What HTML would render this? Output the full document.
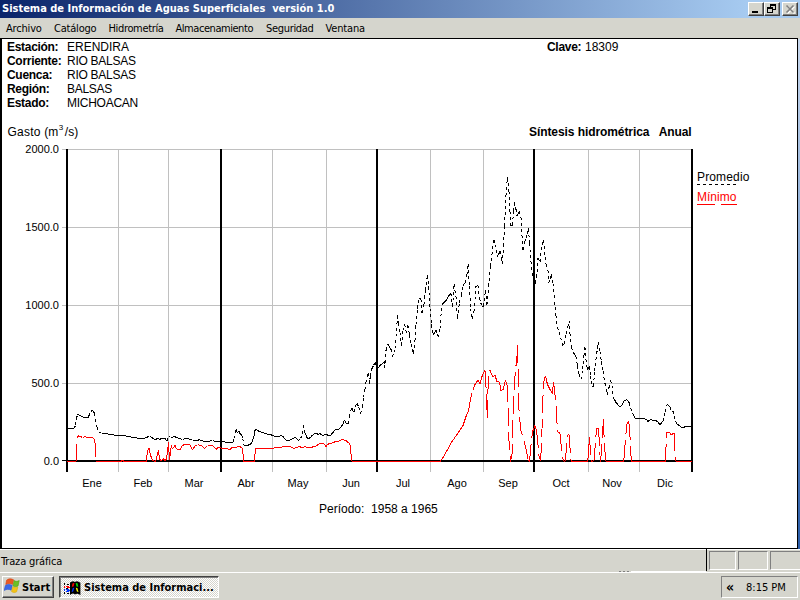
<!DOCTYPE html>
<html lang="es">
<head>
<meta charset="utf-8">
<title>Sistema de Información de Aguas Superficiales versión 1.0</title>
<style>
html,body{margin:0;padding:0;}
body{width:800px;height:600px;overflow:hidden;background:#d5d5cd;position:relative;font-family:"Liberation Sans",sans-serif;}
.abs{position:absolute;white-space:nowrap;}
#title{left:0;top:0;width:800px;height:18px;background:linear-gradient(to right,#0a246a 0,#a6caf0 746px);}
#title .t{left:2px;top:2px;color:#fff;font:bold 11px/14px "DejaVu Sans Condensed","Liberation Sans",sans-serif;}
.cbtn{top:2px;width:16px;height:14px;background:#d5d5cd;box-sizing:border-box;border:1px solid;border-color:#fff #404040 #404040 #fff;box-shadow:inset -1px -1px 0 #808080;}
#menu{left:0;top:18px;width:800px;height:20px;background:#d5d5cd;}
#menu span{position:absolute;top:4px;font:11px/13px "DejaVu Sans Condensed","Liberation Sans",sans-serif;color:#000;}
#client{left:0;top:38px;width:798px;height:511px;background:#000;}
#white{left:2px;top:39px;width:795px;height:509px;background:#fff;}
.lb{font:bold 12px/14px "Liberation Sans",sans-serif;color:#000;letter-spacing:-0.3px;}
.lv{font:12px/14px "Liberation Sans",sans-serif;color:#000;}
.mo{width:40px;text-align:center;top:477px;}
.ax{font:11px/12px "Liberation Sans",sans-serif;color:#000;}
#status{left:0;top:549px;width:800px;height:23px;background:#d5d5cd;box-shadow:inset 0 1px 0 #fff;}
#taskbar{left:0;top:572px;width:800px;height:28px;background:#d5d5cd;border-top:1px solid #fff;box-sizing:border-box;}
.tah{font:11px/13px "DejaVu Sans Condensed","Liberation Sans",sans-serif;color:#000;}
.tahb{font:bold 11px/13px "DejaVu Sans Condensed","Liberation Sans",sans-serif;color:#000;}
.raised{box-sizing:border-box;background:#d5d5cd;border:1px solid;border-color:#fff #404040 #404040 #fff;box-shadow:inset -1px -1px 0 #808080;}
.pressed{box-sizing:border-box;background:#eaeae6;border:1px solid;border-color:#404040 #fff #fff #404040;box-shadow:inset 1px 1px 0 #808080;}
.sunk{box-sizing:border-box;border:1px solid;border-color:#808080 #fff #fff #808080;}
</style>
</head>
<body>
<div id="title" class="abs"><span class="abs t">Sistema de Información de Aguas Superficiales&nbsp; versión 1.0</span>
<div class="abs cbtn" style="left:748px"><svg width="14" height="12" style="position:absolute;left:0;top:0" shape-rendering="crispEdges"><rect x="3" y="8" width="6" height="2" fill="#000"/></svg></div>
<div class="abs cbtn" style="left:764px"><svg width="14" height="12" style="position:absolute;left:0;top:0" shape-rendering="crispEdges"><rect x="5" y="1" width="6" height="2" fill="#000"/><rect x="5" y="3" width="1" height="1" fill="#000"/><rect x="10" y="3" width="1" height="4" fill="#000"/><rect x="8" y="6" width="3" height="1" fill="#000"/><rect x="2" y="4" width="6" height="2" fill="#000"/><rect x="2" y="6" width="1" height="4" fill="#000"/><rect x="7" y="6" width="1" height="4" fill="#000"/><rect x="2" y="9" width="6" height="1" fill="#000"/></svg></div>
<div class="abs cbtn" style="left:782px"><svg width="14" height="12" style="position:absolute;left:0;top:0"><path d="M4.5 3.5L11.5 10.5M11.5 3.5L4.5 10.5" stroke="#fff" stroke-width="1.5"/><path d="M3.5 2.5L10.5 9.5M10.5 2.5L3.5 9.5" stroke="#808080" stroke-width="1.6"/></svg></div>
</div>
<div id="menu" class="abs">
<span style="left:6px;letter-spacing:-0.18px">Archivo</span><span style="left:54px;letter-spacing:-0.2px">Catálogo</span><span style="left:108.5px;letter-spacing:-0.35px">Hidrometría</span><span style="left:175.5px;letter-spacing:-0.45px">Almacenamiento</span><span style="left:266px;letter-spacing:-0.32px">Seguridad</span><span style="left:325.5px;letter-spacing:-0.16px">Ventana</span>
</div>
<div id="client" class="abs"></div>
<div id="white" class="abs"></div>
<div class="abs" style="left:798px;top:39px;width:2px;height:510px;background:linear-gradient(to bottom,#c8d8ee 0%,#7aa0d0 50%,#2a5ca8 100%)"></div>

<span class="abs lb" style="left:7px;top:40px">Estación:</span><span class="abs lv" style="left:67px;top:40px">ERENDIRA</span>
<span class="abs lb" style="left:7px;top:54px">Corriente:</span><span class="abs lv" style="left:67px;top:54px;letter-spacing:-0.27px">RIO BALSAS</span>
<span class="abs lb" style="left:7px;top:68px">Cuenca:</span><span class="abs lv" style="left:67px;top:68px;letter-spacing:-0.27px">RIO BALSAS</span>
<span class="abs lb" style="left:7px;top:82px">Región:</span><span class="abs lv" style="left:67px;top:82px;letter-spacing:-0.27px">BALSAS</span>
<span class="abs lb" style="left:7px;top:96px">Estado:</span><span class="abs lv" style="left:67px;top:96px;letter-spacing:-0.27px">MICHOACAN</span>
<span class="abs lb" style="left:547px;top:40px">Clave:</span><span class="abs lv" style="left:585px;top:40px">18309</span>

<span class="abs lv" style="left:7.5px;top:125px"><span style="letter-spacing:0.25px">Gasto </span>(m<span style="font-size:8px;position:relative;top:-6px;margin:0 1.5px 0 0.5px">3</span>/s)</span>
<span class="abs lb" style="left:529px;top:125px;letter-spacing:-0.08px">Síntesis hidrométrica&nbsp;&nbsp; Anual</span>

<svg class="abs" id="chart" style="left:0;top:0" width="800" height="600" viewBox="0 0 800 600">
<g shape-rendering="crispEdges">
<rect x="68" y="149" width="624" height="1" fill="#c0c0c0"/>
<rect x="68" y="227" width="624" height="1" fill="#c0c0c0"/>
<rect x="68" y="305" width="624" height="1" fill="#c0c0c0"/>
<rect x="68" y="383" width="624" height="1" fill="#c0c0c0"/>
<rect x="118" y="149" width="1" height="323" fill="#c0c0c0"/>
<rect x="168" y="149" width="1" height="323" fill="#c0c0c0"/>
<rect x="272" y="149" width="1" height="323" fill="#c0c0c0"/>
<rect x="326" y="149" width="1" height="323" fill="#c0c0c0"/>
<rect x="430" y="149" width="1" height="323" fill="#c0c0c0"/>
<rect x="483" y="149" width="1" height="323" fill="#c0c0c0"/>
<rect x="588" y="149" width="1" height="323" fill="#c0c0c0"/>
<rect x="639" y="149" width="1" height="323" fill="#c0c0c0"/>
<rect x="66" y="149" width="2" height="323" fill="#000"/>
<rect x="220" y="149" width="2" height="323" fill="#000"/>
<rect x="376" y="149" width="2" height="323" fill="#000"/>
<rect x="533" y="149" width="2" height="323" fill="#000"/>
<rect x="691" y="149" width="2" height="323" fill="#000"/>
<rect x="66" y="460" width="627" height="2" fill="#000"/>
<rect x="62" y="149" width="4" height="1" fill="#c0c0c0"/>
<rect x="62" y="227" width="4" height="1" fill="#c0c0c0"/>
<rect x="62" y="305" width="4" height="1" fill="#c0c0c0"/>
<rect x="62" y="383" width="4" height="1" fill="#c0c0c0"/>
<rect x="62" y="460" width="5" height="1" fill="#000"/>
</g>
<g shape-rendering="crispEdges">
<path d="M67.0 429.0L68.7 428.8M68.7 428.8L70.4 428.6M70.4 428.6L72.1 428.4M72.1 428.4L73.8 428.2M77.5 414.5L79.2 415.2M79.2 415.2L80.8 416.0M80.8 416.0L82.5 416.8M82.5 416.8L84.3 417.2M84.3 417.2L86.2 417.6M86.2 417.6L88.0 418.0M88.0 418.0L89.0 415.5M90.6 411.5L92.5 410.5M98.8 432.4L100.2 432.7M100.2 432.7L101.6 433.1M101.6 433.1L103.0 433.4M103.0 433.4L104.8 433.6M104.8 433.6L106.5 433.8M106.5 433.8L108.2 434.0M108.2 434.0L110.0 434.2M110.0 434.2L111.7 434.6M111.7 434.6L113.3 434.9M113.3 434.9L115.0 435.2M115.0 435.2L116.9 435.5M116.9 435.5L118.8 435.8M118.8 435.8L120.6 435.4M120.6 435.4L122.5 435.0M122.5 435.0L124.2 435.5M124.2 435.5L125.8 436.0M125.8 436.0L127.5 436.5M127.5 436.5L129.0 436.8M129.0 436.8L130.5 437.0M130.5 437.0L132.0 437.2M132.0 437.2L133.5 437.5M133.5 437.5L135.0 437.8M135.0 437.8L136.5 437.9M136.5 437.9L138.0 438.1M138.0 438.1L139.5 438.2M139.5 438.2L141.0 438.4M141.0 438.4L142.5 438.5M142.5 438.5L144.4 438.1M144.4 438.1L146.2 437.8M146.2 437.8L147.8 436.8M147.8 436.8L149.4 435.8M149.4 435.8L150.7 436.6M150.7 436.6L151.9 437.4M151.9 437.4L153.4 438.6M153.4 438.6L155.0 439.9M155.0 439.9L156.2 439.2M156.2 439.2L157.5 438.5M157.5 438.5L158.8 438.9M158.8 438.9L160.0 439.2M160.0 439.2L161.2 438.6M161.2 438.6L162.5 438.0M162.5 438.0L163.8 438.2M163.8 438.2L165.0 438.5M165.0 438.5L166.9 440.8M168.8 435.8L170.6 437.4M170.6 437.4L172.1 437.2M172.1 437.2L173.5 437.0M173.5 437.0L175.0 436.8M175.0 436.8L176.9 437.6M176.9 437.6L178.8 438.5M178.8 438.5L180.6 438.9M180.6 438.9L182.5 439.2M182.5 439.2L184.2 439.0M184.2 439.0L185.8 438.8M185.8 438.8L187.5 438.5M187.5 438.5L189.2 439.1M189.2 439.1L190.8 439.7M190.8 439.7L192.5 440.2M192.5 440.2L194.0 440.2M194.0 440.2L195.5 440.1M195.5 440.1L197.0 440.0M197.0 440.0L198.5 440.0M198.5 440.0L200.0 439.9M200.0 439.9L201.7 440.4M201.7 440.4L203.3 441.0M203.3 441.0L205.0 441.5M205.0 441.5L206.5 441.4M206.5 441.4L208.0 441.2M208.0 441.2L209.5 441.1M209.5 441.1L211.0 440.9M211.0 440.9L212.5 440.8M212.5 440.8L214.2 441.1M214.2 441.1L215.8 441.4M215.8 441.4L217.5 441.8M217.5 441.8L219.0 441.8M219.0 441.8L220.5 441.9M220.5 441.9L222.0 441.9M222.0 441.9L223.5 441.9M223.5 441.9L225.0 442.0M225.0 442.0L226.7 442.3M226.7 442.3L228.3 442.7M228.3 442.7L230.0 443.0M230.0 443.0L231.5 442.5M231.5 442.5L233.0 442.0M237.5 433.0L238.8 431.1M238.8 431.1L240.0 433.5M240.0 433.5L241.9 435.5M243.8 444.9L245.6 446.1M245.6 446.1L247.1 445.6M247.1 445.6L248.5 445.0M248.5 445.0L250.0 444.5M250.0 444.5L251.1 443.4M251.1 443.4L252.2 442.4M255.2 429.0L257.0 430.1M257.0 430.1L258.8 431.1M258.8 431.1L260.6 431.8M260.6 431.8L262.5 432.4M262.5 432.4L263.8 432.9M263.8 432.9L265.0 433.5M265.0 433.5L266.6 433.9M266.6 433.9L268.1 434.2M268.1 434.2L269.7 434.5M269.7 434.5L271.2 434.9M271.2 434.9L273.1 435.7M273.1 435.7L275.0 436.5M275.0 436.5L276.9 436.3M276.9 436.3L278.8 436.1M278.8 436.1L280.6 435.9M280.6 435.9L282.5 435.8M284.4 438.5L285.6 439.6M285.6 439.6L286.9 440.8M286.9 440.8L288.4 440.5M288.4 440.5L290.0 440.2M290.0 440.2L291.9 439.2M291.9 439.2L293.8 438.2M293.8 438.2L295.6 437.4M295.6 437.4L297.1 439.1M297.1 439.1L298.5 440.8M304.0 430.5L305.0 433.0M305.0 433.0L306.2 435.2M307.5 439.0L308.8 438.4M308.8 438.4L310.0 437.8M310.0 437.8L311.2 436.5M311.2 436.5L312.5 435.2M312.5 435.2L314.1 434.0M314.1 434.0L315.6 432.8M315.6 432.8L316.8 433.6M316.8 433.6L318.0 434.5M318.0 434.5L320.0 433.5M320.0 433.5L321.2 434.5M321.2 434.5L322.5 435.5M322.5 435.5L324.4 435.0M324.4 435.0L326.2 434.5M326.2 434.5L328.1 435.3M328.1 435.3L330.0 436.1M330.0 436.1L331.2 434.6M331.2 434.6L332.5 433.0M332.5 433.0L334.1 431.0M334.1 431.0L335.6 429.0M335.6 429.0L336.8 429.4M336.8 429.4L338.0 429.9M338.0 429.9L339.3 428.6M339.3 428.6L340.6 427.4M340.6 427.4L341.8 425.8M341.8 425.8L343.0 424.2M346.2 423.5L347.5 423.5M347.5 423.5L348.8 423.5M355.6 405.5L357.2 403.5M380.0 365.5L381.7 364.2M381.7 364.2L383.3 362.8M383.3 362.8L385.0 361.5M388.0 344.5L389.5 347.0M389.5 347.0L391.0 349.5M418.6 297.5L419.8 298.5M419.8 298.5L421.0 299.5M433.4 334.5L434.7 332.5M434.7 332.5L436.0 330.5M443.0 303.5L444.5 302.0M444.5 302.0L446.0 300.5M446.0 300.5L447.5 298.0M447.5 298.0L449.0 295.5M449.0 295.5L451.0 293.5M476.0 286.5L478.0 285.5M482.0 306.5L483.4 306.5M497.4 256.5L498.7 254.0M498.7 254.0L500.0 251.5M511.0 225.5L512.6 225.5M517.0 215.5L518.2 213.5M518.2 213.5L519.4 211.5M533.0 278.5L534.2 281.0M534.2 281.0L535.4 283.5M562.6 345.5L564.6 343.5M573.4 352.5L574.7 354.5M574.7 354.5L576.0 356.5M592.0 386.5L593.4 386.5M613.4 397.5L614.7 400.0M614.7 400.0L616.0 402.5M616.0 402.5L617.3 404.0M617.3 404.0L618.7 405.5M618.7 405.5L620.0 407.0M620.0 407.0L621.2 405.6M621.2 405.6L622.5 404.2M624.4 400.2L625.6 400.1M625.6 400.1L626.9 399.9M626.9 399.9L628.1 401.4M628.1 401.4L629.4 403.0M632.5 413.0L633.8 415.5M633.8 415.5L635.0 418.0M635.0 418.0L636.6 418.0M636.6 418.0L638.2 418.0M638.2 418.0L639.8 418.0M639.8 418.0L641.4 418.0M641.4 418.0L643.0 418.0M643.0 418.0L644.3 418.6M644.3 418.6L645.6 419.3M645.6 419.3L646.9 419.9M646.9 419.9L647.8 421.8M647.8 421.8L648.9 420.8M648.9 420.8L650.0 419.9M650.0 419.9L651.7 420.0M651.7 420.0L653.3 420.1M653.3 420.1L655.0 420.2M655.0 420.2L656.5 421.0M656.5 421.0L658.0 421.8M659.8 424.9L661.4 423.0M661.4 423.0L663.0 421.1M666.5 404.9L668.0 404.9M668.0 404.9L670.0 406.8M671.5 411.1L673.5 411.1M677.5 424.2L678.8 425.2M678.8 425.2L680.0 426.1M680.0 426.1L681.2 427.1M681.2 427.1L682.5 428.0M682.5 428.0L683.8 427.4M683.8 427.4L685.0 426.8M685.0 426.8L686.8 426.8M686.8 426.8L688.5 426.8M688.5 426.8L690.2 426.8M690.2 426.8L692.0 426.8" stroke="#000" fill="none" stroke-width="1"/>
<g stroke="#000" fill="none" stroke-width="1" stroke-dasharray="3 3"><path d="M73.8 428.2L75.6 425.5"/><path d="M75.6 425.5L76.5 418.5"/><path d="M76.5 418.5L77.5 414.5"/><path d="M89.0 415.5L90.6 411.5"/><path d="M92.5 410.5L94.4 413.0"/><path d="M94.4 413.0L95.6 419.2"/><path d="M95.6 419.2L96.9 426.8"/><path d="M96.9 426.8L98.8 432.4"/><path d="M166.9 440.8L168.8 435.8"/><path d="M233.0 442.0L234.0 438.5"/><path d="M234.0 438.5L235.0 433.0"/><path d="M235.0 433.0L236.0 429.5"/><path d="M236.0 429.5L237.5 433.0"/><path d="M241.9 435.5L242.8 438.5"/><path d="M242.8 438.5L243.8 444.9"/><path d="M252.2 442.4L253.0 439.2"/><path d="M253.0 439.2L254.4 435.5"/><path d="M254.4 435.5L254.8 432.4"/><path d="M254.8 432.4L255.2 429.0"/><path d="M282.5 435.8L284.4 438.5"/><path d="M298.5 440.8L300.6 438.5"/><path d="M300.6 438.5L302.5 434.2"/><path d="M302.5 434.2L303.5 424.9"/><path d="M303.5 424.9L304.0 430.5"/><path d="M306.2 435.2L307.5 439.0"/><path d="M343.0 424.2L344.4 419.9"/><path d="M344.4 419.9L346.2 423.5"/><path d="M348.8 423.5L349.4 416.8"/><path d="M349.4 416.8L350.6 410.5"/><path d="M350.6 410.5L351.9 407.8"/><path d="M351.9 407.8L353.8 412.4"/><path d="M353.8 412.4L355.6 405.5"/><path d="M357.2 403.5L358.8 407.4"/><path d="M358.8 407.4L360.6 413.5"/><path d="M360.6 413.5L362.5 406.8"/><path d="M362.5 406.8L363.5 397.5"/><path d="M363.5 397.5L364.8 390.0"/><path d="M364.8 390.0L366.0 382.5"/><path d="M366.0 382.5L368.0 373.5"/><path d="M368.0 373.5L369.4 379.5"/><path d="M369.4 379.5L368.9 384.5"/><path d="M368.9 384.5L370.4 376.5"/><path d="M370.4 376.5L372.0 368.5"/><path d="M372.0 368.5L373.5 365.5"/><path d="M373.5 365.5L375.0 362.5"/><path d="M375.0 362.5L376.5 370.5"/><path d="M376.5 370.5L378.2 368.0"/><path d="M378.2 368.0L380.0 365.5"/><path d="M385.0 361.5L384.6 368.5"/><path d="M384.6 368.5L386.0 350.5"/><path d="M386.0 350.5L388.0 344.5"/><path d="M391.0 349.5L392.6 356.5"/><path d="M392.6 356.5L393.8 352.5"/><path d="M393.8 352.5L395.0 348.5"/><path d="M395.0 348.5L396.0 336.5"/><path d="M396.0 336.5L397.0 323.5"/><path d="M397.0 323.5L397.4 315.5"/><path d="M397.4 315.5L398.6 323.5"/><path d="M398.6 323.5L400.0 332.5"/><path d="M400.0 332.5L401.4 345.5"/><path d="M401.4 345.5L403.0 330.5"/><path d="M403.0 330.5L404.6 324.5"/><path d="M404.6 324.5L406.6 333.5"/><path d="M406.6 333.5L408.0 325.5"/><path d="M408.0 325.5L409.4 334.5"/><path d="M409.4 334.5L411.0 344.5"/><path d="M411.0 344.5L412.2 349.0"/><path d="M412.2 349.0L413.4 353.5"/><path d="M413.4 353.5L415.0 340.5"/><path d="M415.0 340.5L416.0 324.5"/><path d="M416.0 324.5L417.4 308.5"/><path d="M417.4 308.5L418.6 297.5"/><path d="M421.0 299.5L422.0 312.5"/><path d="M422.0 312.5L424.0 304.5"/><path d="M424.0 304.5L425.4 290.5"/><path d="M425.4 290.5L427.4 275.5"/><path d="M427.4 275.5L428.6 286.5"/><path d="M428.6 286.5L430.0 308.5"/><path d="M430.0 308.5L431.4 324.5"/><path d="M431.4 324.5L433.4 334.5"/><path d="M436.0 330.5L437.3 334.0"/><path d="M437.3 334.0L438.6 337.5"/><path d="M438.6 337.5L440.0 328.5"/><path d="M440.0 328.5L441.4 310.5"/><path d="M441.4 310.5L443.0 303.5"/><path d="M451.0 293.5L452.6 306.5"/><path d="M452.6 306.5L454.0 284.5"/><path d="M454.0 284.5L456.0 296.5"/><path d="M456.0 296.5L457.4 318.5"/><path d="M457.4 318.5L459.4 302.5"/><path d="M459.4 302.5L461.4 295.5"/><path d="M461.4 295.5L463.0 285.5"/><path d="M463.0 285.5L465.0 282.5"/><path d="M465.0 282.5L467.0 274.5"/><path d="M467.0 274.5L468.2 264.5"/><path d="M468.2 264.5L469.4 286.5"/><path d="M469.4 286.5L470.6 308.5"/><path d="M470.6 308.5L472.0 318.5"/><path d="M472.0 318.5L474.0 311.5"/><path d="M474.0 311.5L476.0 286.5"/><path d="M478.0 285.5L479.4 298.5"/><path d="M479.4 298.5L480.7 302.5"/><path d="M480.7 302.5L482.0 306.5"/><path d="M483.4 306.5L485.4 290.5"/><path d="M485.4 290.5L487.0 304.5"/><path d="M487.0 304.5L488.6 286.5"/><path d="M488.6 286.5L490.6 266.5"/><path d="M490.6 266.5L492.6 248.5"/><path d="M492.6 248.5L494.0 240.5"/><path d="M494.0 240.5L495.6 244.5"/><path d="M495.6 244.5L497.4 256.5"/><path d="M500.0 251.5L501.2 258.0"/><path d="M501.2 258.0L502.5 264.5"/><path d="M502.5 264.5L503.5 246.5"/><path d="M503.5 246.5L504.6 226.5"/><path d="M504.6 226.5L506.0 195.5"/><path d="M506.0 195.5L507.4 177.5"/><path d="M507.4 177.5L509.0 191.5"/><path d="M509.0 191.5L510.0 211.5"/><path d="M510.0 211.5L511.0 225.5"/><path d="M512.6 225.5L513.4 211.5"/><path d="M513.4 211.5L514.6 201.5"/><path d="M514.6 201.5L516.0 209.5"/><path d="M516.0 209.5L517.0 215.5"/><path d="M519.4 211.5L521.0 217.5"/><path d="M521.0 217.5L522.0 235.5"/><path d="M522.0 235.5L523.0 249.5"/><path d="M523.0 249.5L525.0 241.5"/><path d="M525.0 241.5L526.2 237.5"/><path d="M526.2 237.5L527.4 233.5"/><path d="M527.4 233.5L528.6 228.5"/><path d="M528.6 228.5L529.4 243.5"/><path d="M529.4 243.5L531.0 261.5"/><path d="M531.0 261.5L533.0 278.5"/><path d="M535.4 283.5L536.6 277.5"/><path d="M536.6 277.5L538.0 258.5"/><path d="M538.0 258.5L540.0 262.0"/><path d="M540.0 262.0L542.0 244.5"/><path d="M542.0 244.5L543.4 240.0"/><path d="M543.4 240.0L544.6 251.5"/><path d="M544.6 251.5L546.0 264.0"/><path d="M546.0 264.0L548.0 270.5"/><path d="M548.0 270.5L549.0 282.5"/><path d="M549.0 282.5L550.2 278.5"/><path d="M550.2 278.5L551.4 274.5"/><path d="M551.4 274.5L553.0 283.5"/><path d="M553.0 283.5L554.6 301.5"/><path d="M554.6 301.5L556.0 315.5"/><path d="M556.0 315.5L557.4 327.5"/><path d="M557.4 327.5L559.0 332.5"/><path d="M559.0 332.5L560.6 337.5"/><path d="M560.6 337.5L562.6 345.5"/><path d="M564.6 343.5L566.0 333.5"/><path d="M566.0 333.5L568.0 326.5"/><path d="M568.0 326.5L569.0 320.5"/><path d="M569.0 320.5L570.0 333.5"/><path d="M570.0 333.5L571.4 347.5"/><path d="M571.4 347.5L573.4 352.5"/><path d="M576.0 356.5L577.4 365.5"/><path d="M577.4 365.5L579.0 374.5"/><path d="M579.0 374.5L581.0 379.5"/><path d="M581.0 379.5L582.6 369.5"/><path d="M582.6 369.5L584.0 355.5"/><path d="M584.0 355.5L585.0 347.5"/><path d="M585.0 347.5L586.0 359.5"/><path d="M586.0 359.5L587.4 369.5"/><path d="M587.4 369.5L589.4 366.5"/><path d="M589.4 366.5L590.6 375.5"/><path d="M590.6 375.5L592.0 386.5"/><path d="M593.4 386.5L594.6 371.5"/><path d="M594.6 371.5L596.0 359.5"/><path d="M596.0 359.5L597.4 348.5"/><path d="M597.4 348.5L598.6 342.5"/><path d="M598.6 342.5L600.0 351.5"/><path d="M600.0 351.5L601.4 361.5"/><path d="M601.4 361.5L603.0 371.5"/><path d="M603.0 371.5L605.0 383.5"/><path d="M605.0 383.5L606.2 389.0"/><path d="M606.2 389.0L607.4 394.5"/><path d="M607.4 394.5L609.0 387.5"/><path d="M609.0 387.5L610.6 380.5"/><path d="M610.6 380.5L612.0 385.5"/><path d="M612.0 385.5L613.4 397.5"/><path d="M622.5 404.2L624.4 400.2"/><path d="M629.4 403.0L630.6 408.0"/><path d="M630.6 408.0L632.5 413.0"/><path d="M658.0 421.8L659.8 424.9"/><path d="M663.0 421.1L664.0 415.5"/><path d="M664.0 415.5L665.6 411.8"/><path d="M665.6 411.8L666.5 404.9"/><path d="M670.0 406.8L671.5 411.1"/><path d="M673.5 411.1L674.0 416.1"/><path d="M674.0 416.1L675.6 421.1"/><path d="M675.6 421.1L677.5 424.2"/></g>

<path d="M67.0 461.5L76.0 461.5M77.5 436.8L78.8 435.8M78.8 435.8L82.5 437.4M82.5 437.4L85.0 436.8M85.0 436.8L88.8 437.5M88.8 437.5L93.0 438.0M93.0 438.0L94.4 439.2M96.2 461.5L121.2 461.5M121.2 461.5L122.5 459.9M122.5 459.9L123.8 461.5M123.8 461.5L146.2 461.5M147.5 450.5L149.0 448.5M150.6 455.5L152.5 460.5M152.5 460.5L155.6 461.5M155.6 461.5L156.9 456.8M159.4 458.0L160.6 461.1M160.6 461.1L162.5 459.9M162.5 459.9L163.8 458.5M163.8 458.5L164.8 461.1M164.8 461.1L166.2 459.2M170.6 450.5L171.5 445.5M171.5 445.5L172.2 449.2M172.2 449.2L173.5 447.4M173.5 447.4L175.0 445.5M175.0 445.5L176.2 448.0M176.2 448.0L177.5 449.9M177.5 449.9L180.0 449.5M180.0 449.5L182.5 445.5M182.5 445.5L184.4 444.5M184.4 444.5L190.0 444.9M190.0 444.9L192.5 449.9M192.5 449.9L195.0 446.1M195.0 446.1L197.5 444.9M197.5 444.9L201.2 445.2M201.2 445.2L204.4 448.5M204.4 448.5L207.5 445.8M207.5 445.8L212.5 445.8M212.5 445.8L216.2 449.5M216.2 449.5L218.8 446.8M218.8 446.8L221.2 448.0M221.2 448.0L225.0 448.5M225.0 448.5L226.9 448.0M226.9 448.0L229.4 450.1M229.4 450.1L232.5 446.8M232.5 446.8L235.0 447.8M235.0 447.8L238.8 446.5M238.8 446.5L241.9 447.4M241.9 447.4L242.8 450.5M243.5 461.1L244.0 461.5M244.0 461.5L254.4 461.5M255.6 448.0L271.2 448.0M271.2 448.0L272.8 448.5M272.8 448.5L274.4 447.8M274.4 447.8L281.2 447.4M281.2 447.4L283.0 446.5M283.0 446.5L290.0 446.8M290.0 446.8L292.5 447.4M292.5 447.4L293.8 449.0M293.8 449.0L295.6 447.4M295.6 447.4L300.0 446.8M300.0 446.8L302.5 447.8M302.5 447.8L305.0 446.5M305.0 446.5L308.8 448.0M308.8 448.0L312.5 447.0M312.5 447.0L315.6 446.1M315.6 446.1L318.8 444.2M318.8 444.2L321.2 443.2M321.2 443.2L324.4 444.2M324.4 444.2L326.2 446.8M326.2 446.8L327.5 444.2M327.5 444.2L331.2 443.5M331.2 443.5L335.0 441.8M335.0 441.8L338.0 442.0M338.0 442.0L340.0 440.5M340.0 440.5L342.5 439.5M342.5 439.5L346.2 440.8M346.2 440.8L348.8 443.0M348.8 443.0L350.2 445.5M351.5 461.5L440.0 461.5M440.0 461.5L443.0 457.5M443.0 457.5L447.0 450.5M447.0 450.5L452.0 441.5M452.0 441.5L457.0 434.5M457.0 434.5L463.0 425.5M463.0 425.5L466.0 416.5M466.0 416.5L468.6 410.5M473.0 389.5L475.4 383.5M475.4 383.5L478.0 380.5M478.0 380.5L480.0 383.5M482.0 376.5L484.0 372.1M484.0 372.1L485.0 370.5M490.0 370.5L492.6 376.5M492.6 376.5L495.0 375.5M495.0 375.5L497.0 381.5M497.0 381.5L499.4 382.1M501.0 390.5L503.0 389.5M505.4 380.5L507.0 384.5M528.2 460.5L529.3 461.5M533.0 430.5L534.9 425.5M534.9 425.5L536.5 430.1M544.1 379.5L545.7 376.0M547.3 383.9L549.5 388.5M549.5 388.5L552.3 393.5M558.0 431.8L560.0 433.5M562.2 456.8L563.8 461.1M563.8 461.1L565.0 461.1M567.5 434.9L569.4 434.9M570.6 459.2L571.9 461.5M571.9 461.5L587.8 461.5M591.0 460.5L592.2 461.5M592.2 461.5L594.0 460.5M596.9 428.0L598.0 428.2M605.6 461.5L623.0 461.5M623.0 461.5L624.0 458.0M627.2 422.4L628.8 421.8M631.9 461.5L665.2 461.5M666.5 433.0L670.0 432.8M670.0 432.8L671.5 435.5M671.5 435.5L672.8 433.0M672.8 433.0L674.0 433.0M675.6 461.5L692.0 461.5" stroke="#f00" fill="none" stroke-width="1"/>
<g stroke="#f00" fill="none" stroke-width="1" stroke-dasharray="18 6"><path d="M76.0 461.5L76.9 445.5L77.5 436.8"/><path d="M94.4 439.2L95.4 445.5L95.9 455.5L96.2 461.5"/><path d="M146.2 461.5L147.5 450.5" stroke-dasharray="none"/><path d="M149.0 448.5L150.6 455.5" stroke-dasharray="none"/><path d="M156.9 456.8L158.5 449.9" stroke-dasharray="none"/><path d="M158.5 449.9L159.4 458.0" stroke-dasharray="none"/><path d="M166.2 459.2L167.5 451.8L168.5 442.4" stroke-dasharray="none"/><path d="M168.5 442.4L169.0 451.8L169.6 460.5"/><path d="M169.6 460.5L170.6 450.5" stroke-dasharray="none"/><path d="M242.8 450.5L243.5 461.1" stroke-dasharray="none"/><path d="M254.4 461.5L254.8 455.5L255.6 448.0" stroke-dasharray="none"/><path d="M350.2 445.5L351.0 454.2L351.5 461.5" stroke-dasharray="none"/><path d="M468.6 410.5L470.6 398.5L473.0 389.5"/><path d="M480.0 383.5L482.0 376.5" stroke-dasharray="none"/><path d="M485.0 370.5L486.0 386.5L486.6 400.5L487.4 418.5"/><path d="M487.4 418.5L488.2 380.5L490.0 370.5"/><path d="M499.4 382.1L501.0 390.5" stroke-dasharray="none"/><path d="M503.0 389.5L505.4 380.5" stroke-dasharray="none"/><path d="M507.0 384.5L508.0 404.5L509.0 440.5L510.4 461.5"/><path d="M510.4 461.5L512.0 454.5L513.0 414.5L514.0 391.5L515.3 371.5L516.9 358.0L517.6 345.5"/><path d="M517.6 345.5L518.0 364.5L519.0 409.5L520.7 430.1L523.6 439.1L525.9 448.1L528.2 460.5"/><path d="M529.3 461.5L530.4 452.5L531.5 439.1L533.0 430.5"/><path d="M536.5 430.1L537.8 441.5L538.7 454.5L540.5 461.1"/><path d="M540.5 461.1L541.7 443.5L542.3 414.5L543.2 391.5L544.1 379.5"/><path d="M545.7 376.0L547.3 383.9" stroke-dasharray="none"/><path d="M552.3 393.5L553.6 382.5" stroke-dasharray="none"/><path d="M553.6 382.5L555.2 396.3L556.2 408.0L556.9 421.8L558.0 431.8"/><path d="M560.0 433.5L561.2 445.5L562.2 456.8"/><path d="M565.0 461.1L566.0 453.0L566.9 443.0L567.5 434.9"/><path d="M569.4 434.9L570.0 448.0L570.6 459.2"/><path d="M587.8 461.5L588.5 450.5L589.4 436.8"/><path d="M589.4 436.8L590.2 446.8L591.0 460.5"/><path d="M594.0 460.5L595.0 448.0L596.0 435.5L596.9 428.0"/><path d="M598.0 428.2L599.0 436.8L599.8 448.0L600.2 461.5"/><path d="M600.2 461.5L601.2 454.2L602.2 438.0L602.8 429.2L603.5 419.2"/><path d="M603.5 419.2L603.8 430.5L604.4 443.0L605.0 451.8L605.6 461.5"/><path d="M624.0 458.0L625.0 445.5L626.0 433.0L627.2 422.4"/><path d="M628.8 421.8L629.8 433.0L630.2 440.5L631.0 455.5L631.9 461.5"/><path d="M665.2 461.5L665.6 450.5L666.5 443.0L666.5 433.0"/><path d="M674.0 433.0L674.4 441.8L675.0 450.5L675.6 461.5"/></g>

<path d="M697 184.5H737" stroke="#000" stroke-dasharray="3 3"/>
<path d="M697 204.5H737" stroke="#f00" stroke-dasharray="18 6"/>
</g>
</svg>


<span class="abs ax" style="left:20px;width:39px;text-align:right;top:143px">2000.0</span>
<span class="abs ax" style="left:20px;width:39px;text-align:right;top:221px">1500.0</span>
<span class="abs ax" style="left:20px;width:39px;text-align:right;top:299px">1000.0</span>
<span class="abs ax" style="left:20px;width:39px;text-align:right;top:377px">500.0</span>
<span class="abs ax" style="left:20px;width:39px;text-align:right;top:455px">0.0</span>
<span class="abs ax mo" style="left:72px">Ene</span>
<span class="abs ax mo" style="left:123px">Feb</span>
<span class="abs ax mo" style="left:174px">Mar</span>
<span class="abs ax mo" style="left:226px">Abr</span>
<span class="abs ax mo" style="left:278px">May</span>
<span class="abs ax mo" style="left:331px">Jun</span>
<span class="abs ax mo" style="left:383px">Jul</span>
<span class="abs ax mo" style="left:437px">Ago</span>
<span class="abs ax mo" style="left:488px">Sep</span>
<span class="abs ax mo" style="left:541px">Oct</span>
<span class="abs ax mo" style="left:592px">Nov</span>
<span class="abs ax mo" style="left:645px">Dic</span>
<span class="abs lv" style="left:319px;top:502px">Período:&nbsp; 1958 a 1965</span>
<span class="abs lv" style="left:697px;top:170px;letter-spacing:0.15px">Promedio</span>
<span class="abs lv" style="left:697px;top:190px;color:#f00">Mínimo</span>
<div id="status" class="abs"><span class="abs tah" style="left:1px;top:6px;letter-spacing:-0.15px">Traza gráfica</span>
<div class="abs" style="left:706px;top:-1px;width:1px;height:23px;background:#000"></div>
<div class="abs sunk" style="left:709px;top:2px;width:27px;height:19px"></div>
<div class="abs sunk" style="left:738px;top:2px;width:30px;height:19px"></div>
<div class="abs sunk" style="left:770px;top:2px;width:30px;height:19px;border-right:0"></div>
<div class="abs" style="left:631px;top:22px;width:75px;height:1px;background:#fff"></div>
<div class="abs" style="left:619px;top:22px;width:2px;height:1px;background:#808080;box-shadow:4px 0 0 #808080,8px 0 0 #808080"></div>
</div>
<div id="taskbar" class="abs">
<div class="abs raised" style="left:2px;top:3px;width:52px;height:22px">
<svg class="abs" style="left:1px;top:1px" width="16" height="15" viewBox="0 0 16 15"><g stroke-width="0.7" stroke-linejoin="round"><path d="M2.6 2.2C4.5 0.6 7 0.4 9.6 1.8L8.6 6.4C6.4 5.2 4 5.2 1.8 6.6Z" fill="#ea5a22" stroke="#d8481a"/><path d="M10.2 2.6C11.8 3.6 13.4 3.6 15.2 2.6L14 8C12.4 9 10.8 8.8 9 8Z" fill="#6cc024" stroke="#58a81c"/><path d="M1.4 7.6C3.4 6.2 5.8 6.2 8.2 7.4L7.2 12.2C5 11 2.6 11 0.2 12.4Z" fill="#3c6ae6" stroke="#2c58d0"/><path d="M8.8 8.8C10.4 9.8 12.2 9.8 13.8 9L12.6 13.8C11 14.8 9.2 14.6 7.6 13.6Z" fill="#f4c418" stroke="#e0b010"/></g></svg>
<span class="abs tahb" style="left:19px;top:4px">Start</span>
</div>
<div class="abs pressed" style="left:59px;top:3px;width:160px;height:22px">
<svg class="abs" style="left:1px;top:1px" width="157" height="19" shape-rendering="crispEdges"><defs><pattern id="dith" width="2" height="2" patternUnits="userSpaceOnUse"><rect width="2" height="2" fill="#d5d5cd"/><rect width="1" height="1" fill="#fff"/><rect x="1" y="1" width="1" height="1" fill="#fff"/></pattern></defs><rect width="157" height="19" fill="url(#dith)"/></svg>
<svg class="abs" style="left:3px;top:3px" width="18" height="16" viewBox="0 0 18 16"><path d="M7 2.6C8.6 1 10.4 0.6 12 2C13.6 0.8 15.4 1.2 17.4 2.8V15.2C15.4 13.4 13.6 13.2 12 14.4C10.4 13 8.6 13.4 7 15Z" fill="#000"/><path d="M9.6 3.2L11.4 3L10.6 6.6L8.8 6.8Z" fill="#f00"/><path d="M12.7 3L14.5 3.2L15.3 6.8L13.5 6.6Z" fill="#0d0"/><path d="M9.8 8L11.3 7.8L10.2 11.6L8.6 11.9Z" fill="#03f"/><path d="M12.8 7.8L14.3 8L15.5 11.9L13.9 11.6Z" fill="#ff0"/><g shape-rendering="crispEdges"><rect x="1" y="6" width="1" height="2" fill="#f00"/><rect x="3" y="6" width="3" height="1" fill="#f00"/><rect x="4" y="7" width="3" height="1" fill="#f00"/><rect x="1" y="9" width="1" height="2" fill="#03f"/><rect x="3" y="9" width="3" height="1" fill="#03f"/><rect x="4" y="10" width="3" height="1" fill="#03f"/><rect x="3" y="11" width="3" height="1" fill="#03f"/><rect x="1" y="3" width="1" height="2" fill="#000"/><rect x="4" y="4" width="2" height="1" fill="#000"/><rect x="1" y="12" width="1" height="2" fill="#000"/><rect x="4" y="13" width="2" height="1" fill="#000"/><rect x="3" y="8" width="2" height="1" fill="#000"/></g></svg>
<span class="abs tahb" style="left:24px;top:4px">Sistema de Informaci...</span>
</div>
<div class="abs sunk" style="left:721px;top:3px;width:77px;height:22px">
<span class="abs tahb" style="left:4px;top:4px;font-size:14px">«</span>
<span class="abs tah" style="left:24px;top:4px">8:15 PM</span>
</div>
</div>
</body>
</html>
